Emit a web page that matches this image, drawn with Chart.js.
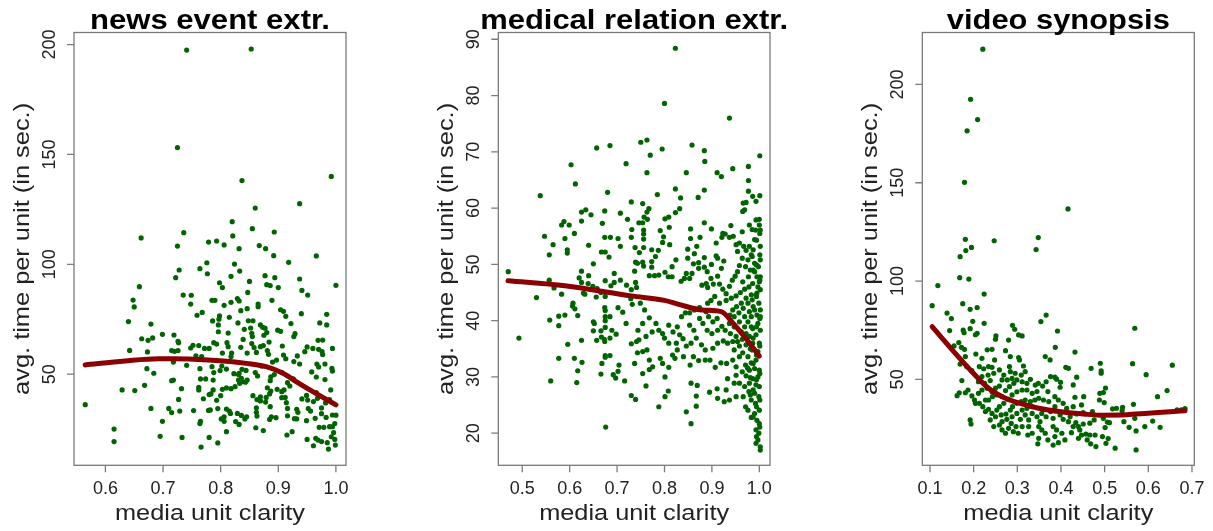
<!DOCTYPE html>
<html lang="en">
<head>
<meta charset="UTF-8">
<title>media unit clarity vs. avg. time per unit</title>
<script src="https://cdn.jsdelivr.net/npm/chart.js"></script>
<style>
  body { margin: 0; background: #fff; }
  canvas.panel { position: absolute; top: 0; }
</style>
</head>
<body>
<canvas id="news" class="panel" width="404" height="531" style="left:0px"></canvas>
<canvas id="medical" class="panel" width="404" height="531" style="left:404px"></canvas>
<canvas id="video" class="panel" width="405" height="531" style="left:808px"></canvas>
<script>
// ---- news event extraction: [clarity, seconds] ----
const newsPoints = [
  [0.741,197.5],[0.853,198.0],[0.725,153.1],
  [0.565,36.1],[0.615,25.0],[0.615,19.3],[0.662,112.0],[0.659,89.8],[0.648,83.7],[0.650,80.6],[0.640,73.9],[0.679,72.8],
  [0.663,66.1],[0.674,65.4],[0.682,66.5],[0.699,68.1],[0.642,60.8],[0.673,60.1],[0.672,52.5],[0.684,50.4],[0.668,44.9],
  [0.629,42.8],[0.651,42.5],[0.679,34.4],[0.699,28.5],[0.695,21.7],[0.736,114.4],[0.725,108.3],[0.779,110.1],[0.728,97.4],
  [0.722,93.9],[0.776,100.7],[0.764,98.0],[0.777,95.7],[0.735,86.0],[0.749,85.9],[0.748,81.9],[0.768,78.1],[0.759,76.8],
  [0.719,67.8],[0.726,64.9],[0.727,64.3],[0.715,60.7],[0.720,60.4],[0.726,60.7],[0.748,61.9],[0.752,63.1],[0.762,63.0],
  [0.772,61.7],[0.780,61.7],[0.757,58.3],[0.767,58.0],[0.718,55.5],[0.741,54.0],[0.764,52.5],[0.765,47.8],[0.774,47.8],
  [0.715,47.0],[0.718,47.3],[0.732,43.4],[0.762,44.0],[0.762,42.8],[0.780,40.7],[0.770,38.8],[0.727,38.5],[0.710,34.4],
  [0.715,32.5],[0.729,33.2],[0.753,33.4],[0.779,33.5],[0.765,28.5],[0.764,27.5],[0.733,21.2],[0.766,16.8],[0.780,21.2],
  [0.837,138.1],[0.992,140.0],[0.937,127.6],[0.860,125.6],[0.820,119.4],[0.855,116.2],[0.893,114.7],[0.821,112.9],
  [0.793,110.6],[0.806,108.8],[0.832,107.1],[0.867,108.5],[0.878,107.1],[0.892,103.9],[0.918,100.9],[0.966,103.8],
  [0.824,100.1],[0.833,96.9],[0.818,94.5],[0.850,92.2],[0.877,94.8],[0.894,93.9],[0.880,90.7],[0.886,90.3],[0.900,89.4],
  [0.937,93.3],[0.941,88.1],[0.951,86.0],[1.000,90.4],[0.798,91.6],[0.803,89.4],[0.847,87.2],[0.785,83.6],[0.790,83.6],
  [0.806,81.3],[0.818,82.7],[0.829,84.4],[0.832,83.3],[0.846,79.8],[0.865,81.9],[0.865,80.7],[0.889,83.6],[0.904,79.3],
  [0.909,78.6],[0.913,76.3],[0.940,77.5],[0.984,77.2],[0.786,74.2],[0.797,75.0],[0.798,76.5],[0.815,75.9],[0.835,78.9],
  [0.848,74.3],[0.856,74.3],[0.830,73.3],[0.796,72.4],[0.796,69.3],[0.813,68.7],[0.841,70.4],[0.852,71.0],[0.854,68.6],
  [0.855,67.1],[0.869,72.4],[0.873,71.3],[0.877,70.9],[0.880,68.9],[0.875,67.7],[0.899,70.0],[0.904,69.5],[0.922,73.0],
  [0.929,68.4],[0.927,67.1],[0.972,73.3],[0.984,72.4],[0.969,65.4],[0.977,65.5],[0.994,61.7],[0.788,64.3],[0.793,63.7],
  [0.803,59.6],[0.811,64.3],[0.813,62.5],[0.819,59.6],[0.818,58.0],[0.835,62.2],[0.839,65.8],[0.846,59.6],[0.854,63.9],
  [0.858,62.1],[0.862,59.9],[0.869,62.5],[0.874,63.0],[0.881,60.7],[0.884,64.6],[0.883,59.0],[0.907,62.8],[0.909,58.7],
  [0.913,57.0],[0.927,55.7],[0.933,58.3],[0.937,54.6],[0.946,60.2],[0.950,62.4],[0.960,61.7],[0.970,61.3],[0.976,60.2],
  [0.977,58.9],[0.967,54.6],[0.970,53.3],[0.981,54.6],[0.993,52.6],[0.994,51.4],[0.785,53.4],[0.788,50.7],[0.802,53.7],
  [0.799,51.6],[0.810,52.3],[0.823,50.2],[0.831,49.8],[0.837,52.2],[0.844,51.7],[0.860,50.7],[0.864,49.2],[0.871,53.7],
  [0.890,55.5],[0.897,56.4],[0.906,50.8],[0.916,46.1],[0.920,44.6],[0.926,47.9],[0.958,51.0],[0.966,48.7],[0.981,47.5],
  [0.831,47.3],[0.836,48.1],[0.833,45.8],[0.838,46.6],[0.843,46.3],[0.846,47.3],[0.832,50.4],[0.818,43.4],[0.825,44.3],
  [0.810,43.7],[0.803,43.1],[0.787,47.3],[0.787,42.8],[0.800,40.2],[0.783,41.0],[0.782,33.7],[0.795,34.3],[0.806,30.6],
  [0.810,34.1],[0.815,33.2],[0.817,32.1],[0.829,32.1],[0.836,31.2],[0.826,28.4],[0.832,27.1],[0.845,30.6],[0.856,40.2],
  [0.863,38.4],[0.869,39.7],[0.879,39.4],[0.878,37.3],[0.886,35.2],[0.888,30.6],[0.885,29.4],[0.896,30.2],[0.881,43.8],
  [0.885,41.0],[0.887,42.3],[0.898,43.1],[0.906,42.0],[0.910,42.8],[0.912,39.4],[0.906,39.3],[0.914,37.0],[0.916,34.4],
  [0.916,31.0],[0.932,34.0],[0.934,32.6],[0.941,38.7],[0.949,40.3],[0.951,38.2],[0.952,34.3],[0.956,33.2],[0.961,37.5],
  [0.966,41.6],[0.968,39.0],[0.975,34.6],[0.982,36.9],[0.989,38.4],[0.991,42.8],[0.928,29.7],[0.932,29.6],[0.949,28.8],
  [0.964,29.9],[0.975,32.0],[0.994,31.4],[1.000,31.3],[0.983,30.3],[0.998,27.5],[0.994,26.1],[0.861,25.6],[0.874,24.3],
  [0.915,22.3],[0.924,23.8],[0.950,20.3],[0.961,17.4],[0.965,20.8],[0.969,20.0],[0.971,25.8],[0.979,25.8],[0.985,18.8],
  [0.989,26.1],[0.992,21.5],[0.996,23.4],[0.998,20.3],[0.999,17.7],[0.987,15.9],[0.975,19.3],[0.795,18.7],[0.810,23.8],
  [0.842,29.6],[0.801,29.6],[0.806,28.5],[0.793,38.1],[0.862,34.7],[0.862,32.6],[0.863,30.9],[0.869,37.8],[0.886,47.0],
  [0.887,48.8],[0.893,49.8]
];
const newsFitX = [0.565, 0.634, 0.692, 0.720, 0.778, 0.845, 0.879, 0.908, 0.931, 0.960, 1.000];
const newsFitY = [54.2, 56.0, 57.0, 57.0, 56.4, 54.9, 53.4, 50.4, 46.6, 42.0, 36.0];
const newsXTicks = [0.6, 0.7, 0.8, 0.9, 1.0];
const newsYTicks = [50, 100, 150, 200];

// ---- medical relation extraction ----
const medicalPoints = [
  [0.823,88.4],[0.800,78.6],[0.937,76.0],
  [0.4705,48.7],[0.493,36.9],[0.530,44.1],[0.538,62.2],[0.547,55.0],[0.557,51.7],[0.565,53.5],[0.557,47.2],[0.567,45.8],
  [0.558,40.1],[0.577,40.8],[0.577,39.1],[0.560,29.3],[0.577,33.3],[0.583,57.0],[0.588,57.6],[0.599,57.0],[0.590,54.6],
  [0.595,52.6],[0.595,52.0],[0.583,44.7],[0.590,41.0],[0.596,35.8],[0.603,67.7],[0.612,64.3],[0.610,55.5],[0.607,43.1],
  [0.606,42.6],[0.611,42.1],[0.617,40.9],[0.610,33.3],[0.617,31.1],[0.615,29.0],[0.626,32.6],[0.625,36.5],[0.625,59.3],
  [0.634,59.7],[0.625,57.7],[0.645,58.8],[0.640,53.4],[0.650,50.1],[0.625,48.8],[0.620,47.6],[0.625,46.8],[0.640,48.0],
  [0.639,46.6],[0.629,44.9],[0.632,44.7],[0.657,70.7],[0.685,71.1],[0.719,67.9],[0.680,62.8],[0.669,57.3],[0.674,59.5],
  [0.674,54.8],[0.686,54.8],[0.702,54.6],[0.707,53.2],[0.707,59.1],[0.722,58.0],[0.730,61.1],[0.731,56.2],[0.730,54.8],
  [0.738,53.0],[0.667,52.2],[0.675,52.2],[0.683,51.3],[0.649,46.1],[0.656,44.2],[0.658,45.7],[0.666,45.0],[0.675,44.3],
  [0.675,47.1],[0.687,46.2],[0.694,48.4],[0.694,46.8],[0.707,47.2],[0.720,46.3],[0.730,45.5],[0.729,43.9],[0.732,42.9],
  [0.739,46.8],[0.741,45.9],[0.737,48.8],[0.739,50.4],[0.674,42.3],[0.675,41.8],[0.675,40.7],[0.675,40.0],[0.685,40.7],
  [0.702,42.3],[0.712,41.5],[0.650,39.8],[0.652,39.5],[0.650,38.2],[0.666,38.2],[0.675,38.8],[0.689,38.3],[0.698,37.6],
  [0.719,39.5],[0.657,36.5],[0.667,37.1],[0.673,36.7],[0.685,36.9],[0.674,36.3],[0.730,35.9],[0.741,36.3],[0.675,33.8],
  [0.675,33.5],[0.685,33.8],[0.668,32.4],[0.666,30.5],[0.704,32.1],[0.702,31.0],[0.692,30.4],[0.697,29.8],[0.716,29.3],
  [0.737,32.4],[0.730,26.7],[0.739,26.0],[0.676,21.1],
  [0.750,71.7],[0.763,72.1],[0.770,69.4],[0.795,70.5],[0.763,66.3],[0.858,71.2],[0.884,70.2],[0.885,68.3],[0.846,66.3],
  [0.911,66.3],[0.920,65.6],[0.944,67.0],[0.977,67.4],[0.977,64.9],[1.001,69.3],[0.977,63.0],[0.986,62.1],[0.993,61.2],
  [1.001,62.2],[0.966,60.9],[0.972,61.0],[0.969,59.7],[0.965,59.4],[0.785,62.4],[0.823,63.4],[0.834,61.8],[0.871,61.9],
  [0.884,63.2],[0.823,59.2],[0.832,59.9],[0.754,60.8],[0.767,59.9],[0.763,59.3],[0.757,58.4],[0.746,57.4],[0.754,57.4],
  [0.756,56.1],[0.756,55.4],[0.756,54.5],[0.764,58.0],[0.801,58.1],[0.809,58.4],[0.810,56.6],[0.791,56.0],[0.798,54.9],
  [0.796,53.9],[0.811,53.5],[0.787,52.5],[0.773,52.6],[0.781,51.4],[0.756,53.0],[0.747,52.1],[0.743,50.2],[0.754,50.4],
  [0.756,49.7],[0.773,50.5],[0.773,49.5],[0.768,48.0],[0.779,48.0],[0.788,48.1],[0.801,48.6],[0.808,47.8],[0.816,47.8],
  [0.824,50.8],[0.816,49.6],[0.849,52.7],[0.855,56.3],[0.855,54.6],[0.875,54.8],[0.899,56.3],[0.884,57.4],[0.928,55.4],
  [0.940,56.9],[0.921,54.8],[0.937,54.8],[0.945,55.0],[0.923,55.5],[0.909,53.8],[0.964,55.8],[0.979,57.0],[0.985,56.2],
  [0.992,56.1],[1.000,58.0],[1.000,57.0],[0.868,53.2],[0.863,51.9],[0.884,51.2],[0.849,51.1],[0.872,50.3],[0.861,50.1],
  [0.858,48.4],[0.846,48.4],[0.842,47.5],[0.835,47.0],[0.853,47.5],[0.872,49.3],[0.884,49.5],[0.890,48.7],[0.899,50.0],
  [0.909,51.5],[0.912,51.1],[0.920,49.3],[0.925,50.6],[0.898,47.5],[0.879,46.3],[0.888,46.6],[0.891,45.9],[0.903,46.5],
  [0.912,47.9],[0.916,46.5],[0.923,45.6],[0.930,44.8],[0.937,46.1],[0.943,47.2],[0.949,47.9],[0.954,48.7],[0.958,49.8],
  [0.964,51.1],[0.954,52.3],[0.951,53.5],[0.958,53.8],[0.967,53.2],[0.972,52.5],[0.979,53.2],[0.983,51.7],[0.976,50.8],
  [0.971,49.6],[0.981,49.0],[0.990,50.2],[0.998,49.6],[0.995,47.8],[1.000,46.9],[0.986,46.6],[0.978,46.0],[0.969,45.6],
  [0.960,45.0],[0.951,44.4],[0.941,44.0],[0.930,43.6],[0.916,43.1],[0.906,44.3],[0.898,43.6],[0.891,43.1],[0.888,41.6],
  [0.874,42.3],[0.863,41.9],[0.853,41.4],[0.844,41.4],[0.836,40.7],[0.853,39.2],[0.862,38.3],[0.874,40.4],[0.881,39.5],
  [0.893,40.7],[0.902,39.8],[0.911,40.4],[0.890,38.3],[0.900,37.7],[0.912,38.3],[0.921,39.0],[0.928,38.3],[0.937,39.5],
  [0.947,40.7],[0.957,41.4],[0.966,42.2],[0.976,43.1],[0.985,43.7],[0.993,44.6],[0.999,43.1],[0.990,41.9],[0.983,40.7],
  [0.976,39.8],[0.969,38.9],[0.962,38.0],[0.951,37.2],[0.944,36.3],[0.933,36.0],[0.924,36.4],[0.912,36.0],[0.902,35.1],
  [0.886,34.8],[0.878,35.7],[0.867,36.9],[0.856,36.0],[0.846,35.5],[0.839,36.8],[0.825,36.0],[0.827,34.8],[0.817,33.9],
  [0.809,36.0],[0.800,36.9],[0.796,37.7],[0.788,38.3],[0.809,39.2],[0.818,38.0],[0.827,38.9],[0.832,37.5],[0.782,39.5],
  [0.774,38.0],[0.768,40.5],[0.758,41.9],[0.749,43.1],[0.754,39.5],[0.744,38.3],[0.746,36.6],[0.761,37.2],[0.763,34.8],
  [0.754,34.5],[0.743,34.3],[0.768,33.0],[0.775,31.8],[0.768,31.3],[0.754,30.6],[0.761,28.4],[0.791,33.3],[0.796,32.4],
  [0.809,31.7],[0.801,30.0],[0.822,33.3],[0.840,33.6],[0.854,32.1],[0.861,33.6],[0.872,32.9],[0.886,33.0],[0.896,33.0],
  [0.907,31.7],[0.919,32.5],[0.931,32.4],[0.944,33.0],[0.951,31.8],[0.933,29.7],[0.947,28.9],[0.951,26.5],[0.937,25.9],
  [0.926,25.6],[0.912,26.2],[0.895,27.3],[0.911,27.9],[0.867,26.6],[0.867,24.8],[0.856,28.9],[0.869,28.5],[0.846,23.8],
  [0.856,21.7],[0.808,27.5],[0.801,26.5],[0.788,24.7],
  [0.971,24.7],[0.976,24.1],[0.983,22.8],[0.993,20.6],[0.997,18.8],[1.002,17.6],[1.002,17.0],[0.993,18.2],[0.999,20.0],
  [1.000,21.7],[0.995,22.3],[0.990,23.5],[1.000,24.1],[0.992,25.3],[0.983,25.9],[0.999,26.5],[0.990,27.1],[0.978,27.4],
  [0.969,28.3],[0.979,28.9],[0.993,28.6],[1.000,28.3],[0.986,29.7],[0.997,30.0],[0.972,30.2],[0.964,30.9],[0.979,31.2],
  [0.990,31.5],[1.000,31.2],[0.971,32.1],[0.983,32.5],[0.993,33.0],[0.976,33.6],[0.965,34.3],[0.985,34.8],[0.997,34.5],
  [0.958,35.5],[0.972,35.7],[0.986,36.0],[1.000,36.0],[0.964,36.7],[0.979,37.2],[0.993,37.5],[1.002,38.3],[0.986,38.6],
  [0.997,39.5],[1.002,40.7],[0.995,41.0],[1.002,41.9],[1.002,45.5],[1.002,47.8],[0.997,46.0],[1.002,50.8],[1.002,53.2],
  [1.002,56.1],[0.993,57.9],[0.990,54.4],[0.985,51.4],[0.990,48.7],[0.977,47.8],[0.965,46.9],[0.995,44.9],[0.983,44.6],
  [0.972,44.0],[0.962,43.1],[0.952,42.5],[0.944,41.9],[0.938,41.0],[0.979,41.6],[0.969,40.7],[0.958,39.8],[0.947,38.9],
  [0.939,37.7],[0.983,38.9],[0.972,37.7],[0.954,36.3],[0.947,34.8],[0.958,33.6],[0.951,30.3],[0.958,28.9],[0.966,26.5],
  [0.930,27.7],
  [1.001,55.5],[0.994,54.3],[0.987,52.6],[1.001,51.7],[0.994,49.9],[0.987,49.0],[1.001,47.2],[0.994,44.3],[0.987,42.5],
  [1.001,40.4],[0.994,38.9],[0.987,36.9],[1.001,35.5],[0.994,33.9],[0.987,32.4],[1.001,30.6],[0.994,29.5],[0.987,27.7],
  [1.001,25.9],[0.994,24.7],[0.987,22.9],[1.001,21.1],[0.994,19.4],[0.981,35.0],[0.981,29.9],[0.981,26.8],[0.975,31.6]
];
const medicalFitX = [0.470, 0.590, 0.730, 0.800, 0.830, 0.880, 0.920, 0.945, 0.970, 1.000];
const medicalFitY = [47.1, 46.2, 44.4, 43.6, 42.9, 41.9, 41.6, 39.5, 37.0, 33.7];
const medicalXTicks = [0.5, 0.6, 0.7, 0.8, 0.9, 1.0];
const medicalYTicks = [20, 30, 40, 50, 60, 70, 80, 90];

// ---- video synopsis ----
const videoPoints = [
  [0.221,217.9],[0.193,192.4],[0.209,182.1],[0.185,176.4],[0.179,150.2],[0.416,136.7],[0.348,122.1],[0.181,121.2],
  [0.247,120.5],[0.182,115.5],[0.195,117.1],[0.343,116.0],[0.169,112.4],
  [0.118,97.7],[0.168,101.7],[0.189,101.0],[0.224,93.4],[0.105,87.5],[0.175,88.5],[0.192,85.6],[0.208,86.5],[0.139,83.7],
  [0.149,80.9],[0.198,79.5],[0.224,78.5],[0.145,74.8],[0.176,75.1],[0.178,73.7],[0.192,75.8],[0.204,72.7],[0.208,73.4],
  [0.166,68.7],[0.172,66.3],[0.179,65.3],[0.155,67.0],[0.181,61.6],[0.205,62.9],[0.169,57.8],[0.184,56.5],[0.196,54.4],
  [0.173,49.4],[0.167,43.2],[0.162,41.7],[0.181,43.2],[0.187,44.6],[0.196,41.6],[0.192,29.4],[0.194,27.3],[0.202,39.5],
  [0.204,37.8],[0.219,60.7],[0.231,65.0],[0.242,65.3],[0.248,59.9],[0.250,70.4],[0.251,72.1],[0.280,70.0],[0.289,77.5],
  [0.294,75.5],[0.303,72.6],[0.311,72.1],[0.273,64.6],[0.284,61.6],[0.303,61.1],[0.305,59.9],[0.314,56.8],[0.354,79.4],
  [0.366,82.7],[0.364,61.6],[0.375,59.9],[0.213,56.5],[0.223,55.4],[0.234,56.5],[0.242,56.1],[0.233,52.2],[0.219,51.4],
  [0.211,48.8],[0.225,48.0],[0.238,49.4],[0.246,53.1],[0.259,54.8],[0.269,52.2],[0.282,56.5],[0.284,53.9],[0.288,50.5],
  [0.277,49.7],[0.265,49.7],[0.259,46.6],[0.250,45.5],[0.242,43.7],[0.231,45.5],[0.219,44.6],[0.211,42.9],[0.213,37.8],
  [0.221,36.1],[0.227,33.6],[0.234,34.8],[0.242,32.7],[0.250,31.0],[0.238,29.4],[0.246,26.0],[0.259,26.8],[0.265,24.3],
  [0.273,22.6],[0.280,25.1],[0.291,23.4],[0.302,22.6],[0.311,26.0],[0.227,39.5],[0.234,39.5],[0.243,41.2],[0.253,42.1],
  [0.265,41.2],[0.273,44.3],[0.282,46.3],[0.292,48.0],[0.299,49.7],[0.309,52.2],[0.318,53.9],[0.295,53.1],[0.311,48.8],
  [0.322,48.0],[0.330,50.0],[0.341,47.1],[0.348,48.0],[0.358,46.6],[0.370,43.8],[0.345,43.8],[0.334,42.9],[0.322,44.6],
  [0.311,44.6],[0.299,43.7],[0.288,42.1],[0.279,39.9],[0.269,37.8],[0.259,36.1],[0.253,34.4],[0.263,31.9],[0.274,32.4],
  [0.284,34.4],[0.289,36.1],[0.299,37.8],[0.309,38.7],[0.318,39.5],[0.330,38.7],[0.340,39.5],[0.349,40.4],[0.360,39.5],
  [0.372,38.7],[0.288,31.0],[0.299,32.7],[0.307,29.7],[0.318,31.9],[0.326,29.4],[0.334,32.7],[0.345,31.0],[0.352,28.5],
  [0.349,26.0],[0.356,24.3],[0.364,22.6],[0.349,20.0],[0.347,17.2],[0.370,19.2],[0.356,32.7],[0.366,31.0],[0.376,33.6],
  [0.334,36.1],[0.322,35.3],[0.311,34.4],[0.276,29.7],[0.265,28.5],[0.286,27.6],[0.297,26.0],[0.326,26.0],[0.334,22.6],
  [0.324,21.7],[0.376,51.4],[0.366,48.8],
  [0.392,74.6],[0.569,76.0],[0.387,66.3],[0.432,63.9],[0.490,58.2],[0.492,54.3],[0.492,53.1],[0.469,55.6],[0.411,56.1],
  [0.417,55.6],[0.564,58.0],[0.655,57.2],[0.595,52.4],[0.386,51.1],[0.390,50.1],[0.436,51.1],[0.399,48.5],[0.428,47.2],
  [0.398,46.0],[0.502,45.6],[0.497,43.3],[0.489,42.9],[0.643,44.3],[0.621,41.2],[0.566,37.3],[0.386,41.2],[0.394,39.5],
  [0.405,37.8],[0.432,40.9],[0.452,41.2],[0.447,37.0],[0.488,39.5],[0.499,38.2],[0.428,36.1],[0.413,35.3],[0.386,36.1],
  [0.518,35.0],[0.527,35.3],[0.541,35.8],[0.540,34.1],[0.472,33.6],[0.451,33.1],[0.436,32.4],[0.421,31.1],[0.398,31.9],
  [0.382,30.2],[0.666,34.5],[0.676,34.5],[0.684,35.1],[0.405,29.7],[0.417,28.5],[0.434,28.0],[0.440,26.0],[0.451,27.3],
  [0.466,27.7],[0.476,29.4],[0.497,30.2],[0.506,28.3],[0.511,28.0],[0.501,25.5],[0.544,28.5],[0.556,25.6],[0.569,30.2],
  [0.572,23.8],[0.592,26.0],[0.610,28.8],[0.627,25.6],[0.382,26.0],[0.390,24.3],[0.402,22.6],[0.386,20.9],[0.382,16.6],
  [0.394,17.8],[0.409,19.2],[0.424,22.9],[0.440,20.0],[0.447,21.7],[0.457,22.2],[0.466,21.7],[0.478,21.7],[0.460,19.2],
  [0.468,17.2],[0.480,15.8],[0.495,20.9],[0.508,19.9],[0.503,17.5],[0.524,15.0],[0.572,14.1],[0.443,24.3],[0.428,26.0]
];
const videoFitX = [0.105, 0.158, 0.196, 0.234, 0.273, 0.311, 0.349, 0.400, 0.451, 0.489, 0.550, 0.600, 0.650, 0.684];
const videoFitY = [76.8, 63.2, 53.9, 45.5, 40.4, 37.5, 35.3, 33.5, 32.4, 31.8, 32.0, 32.8, 33.5, 34.1];
const videoXTicks = [0.1, 0.2, 0.3, 0.4, 0.5, 0.6, 0.7];
const videoYTicks = [50, 100, 150, 200];

const FONT = '"Liberation Sans", Arial, Helvetica, sans-serif';

// draw text stretched horizontally to a given width (R output is wider than the font)
function fitText(ctx, text, x, y, width, rotate) {
  ctx.save();
  ctx.translate(x, y);
  if (rotate) ctx.rotate(rotate);
  const w = ctx.measureText(text).width;
  ctx.scale(width ? width / w : 1, 1);
  ctx.fillText(text, 0, 0);
  ctx.restore();
}

// R style frame: box, outward ticks, rotated y labels, titles
const rFrame = {
  id: 'rFrame',
  afterDraw(chart, args, o) {
    const { ctx, chartArea: a } = chart;
    const xs = chart.scales.x, ys = chart.scales.y;
    ctx.save();
    ctx.strokeStyle = '#7a7a7a';
    ctx.lineWidth = 1.3;
    ctx.strokeRect(a.left, a.top, a.right - a.left, a.bottom - a.top);
    ctx.beginPath();
    o.xTicks.forEach(v => {
      const px = xs.getPixelForValue(v);
      ctx.moveTo(px, a.bottom); ctx.lineTo(px, a.bottom + 7);
    });
    o.yTicks.forEach(v => {
      const py = ys.getPixelForValue(v);
      ctx.moveTo(a.left, py); ctx.lineTo(a.left - 7, py);
    });
    ctx.stroke();

    ctx.fillStyle = '#222';
    ctx.textAlign = 'center';
    ctx.textBaseline = 'alphabetic';
    ctx.font = '18px ' + FONT;
    o.xTicks.forEach(v => {
      ctx.fillText(v.toFixed(1), xs.getPixelForValue(v), a.bottom + 29);
    });
    o.yTicks.forEach(v => {
      fitText(ctx, String(v), a.left - 19, ys.getPixelForValue(v), 0, -Math.PI / 2);
    });

    const cx = (a.left + a.right) / 2, cy = (a.top + a.bottom) / 2;
    ctx.font = '22px ' + FONT;
    fitText(ctx, 'media unit clarity', cx, a.bottom + 55, 190);
    fitText(ctx, 'avg. time per unit (in sec.)', a.left - 45.5, cy, 292, -Math.PI / 2);

    ctx.fillStyle = '#000';
    ctx.font = 'bold 28px ' + FONT;
    fitText(ctx, o.title, cx, 28.5, o.titleWidth);
    ctx.restore();
  }
};

function makePanel(id, cfg) {
  const ctx = document.getElementById(id).getContext('2d');
  return new Chart(ctx, {
    type: 'scatter',
    data: {
      datasets: [
        {
          type: 'line',
          data: cfg.fitX.map((x, i) => ({ x: x, y: cfg.fitY[i] })),
          borderColor: '#8b0000',
          borderWidth: 5,
          borderCapStyle: 'round',
          borderJoinStyle: 'round',
          cubicInterpolationMode: 'monotone',
          pointRadius: 0,
          fill: false
        },
        {
          data: cfg.points.map(p => ({ x: p[0], y: p[1] })),
          pointRadius: 2.6,
          pointBackgroundColor: '#006400',
          pointBorderWidth: 0,
          showLine: false
        }
      ]
    },
    options: {
      responsive: false,
      animation: false,
      events: [],
      layout: { padding: cfg.pad },
      scales: {
        x: { type: 'linear', min: cfg.xRange[0], max: cfg.xRange[1], display: false },
        y: { type: 'linear', min: cfg.yRange[0], max: cfg.yRange[1], display: false }
      },
      plugins: {
        legend: { display: false },
        tooltip: { enabled: false },
        rFrame: { xTicks: cfg.xTicks, yTicks: cfg.yTicks, title: cfg.title, titleWidth: cfg.titleWidth }
      }
    },
    plugins: [rFrame]
  });
}

makePanel('news', {
  points: newsPoints, fitX: newsFitX, fitY: newsFitY,
  xTicks: newsXTicks, yTicks: newsYTicks,
  xRange: [0.5455, 1.0175], yRange: [8.5, 205.5],
  title: 'news event extr.', titleWidth: 240,
  pad: { left: 74, right: 58, top: 32.5, bottom: 65.7 }
});
makePanel('medical', {
  points: medicalPoints, fitX: medicalFitX, fitY: medicalFitY,
  xTicks: medicalXTicks, yTicks: medicalYTicks,
  xRange: [0.4495, 1.0225], yRange: [14.3, 91.2],
  title: 'medical relation extr.', titleWidth: 308,
  pad: { left: 94.3, right: 38, top: 32.5, bottom: 65.7 }
});
makePanel('video', {
  points: videoPoints, fitX: videoFitX, fitY: videoFitY,
  xTicks: videoXTicks, yTicks: videoYTicks,
  xRange: [0.0824, 0.7053], yRange: [6.3, 226.4],
  title: 'video synopsis', titleWidth: 223,
  pad: { left: 114.3, right: 18.7, top: 32.5, bottom: 65.7 }
});
</script>
</body>
</html>
